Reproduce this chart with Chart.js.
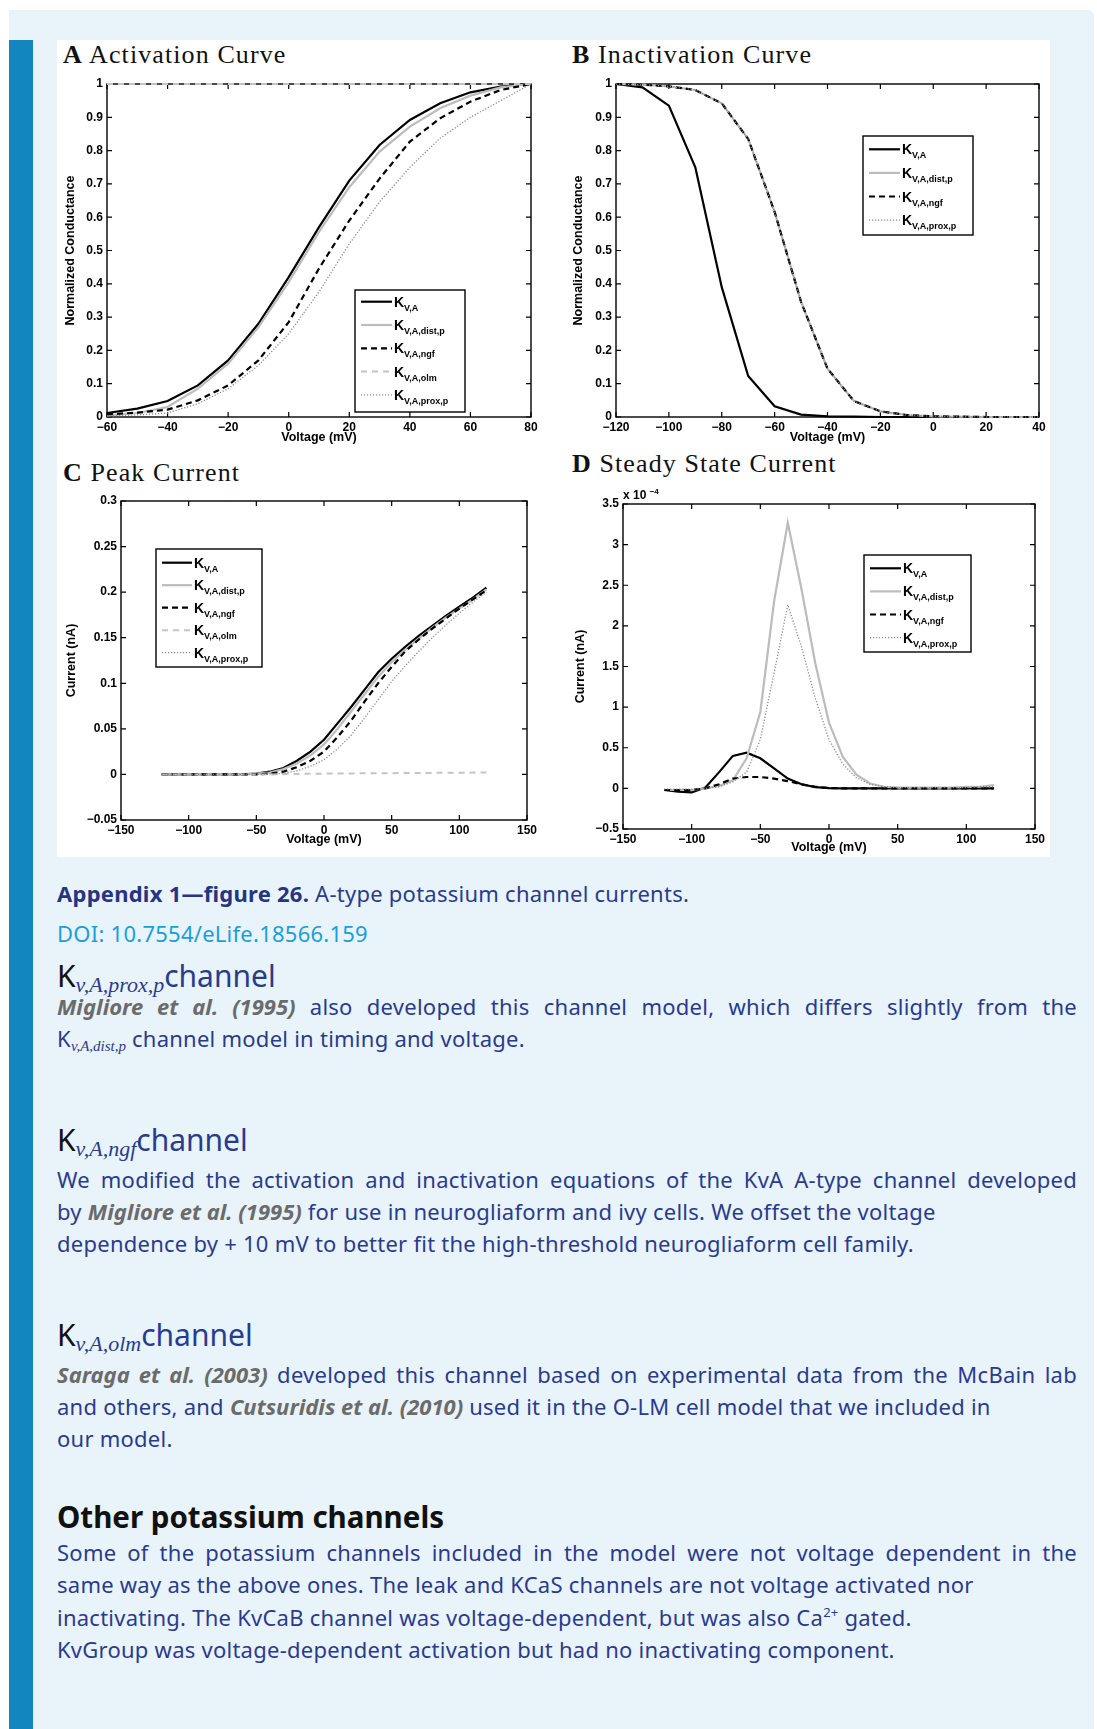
<!DOCTYPE html>
<html>
<head>
<meta charset="utf-8">
<script src="https://cdn.jsdelivr.net/npm/chart.js@4.4.0/dist/chart.umd.min.js"></script>
<style>
html, body { margin: 0; padding: 0; background: #fff; }
body { width: 1097px; height: 1729px; position: relative; overflow: hidden; font-family: "Noto Sans", Lato, sans-serif; }
#panel { position: absolute; left: 9px; top: 10px; width: 1085px; height: 1719px; background: #e8f3fa; border-top-right-radius: 6px; }
#bar { position: absolute; left: 9px; top: 40px; width: 24px; height: 1689px; background: #1287bf; }
#fig { position: absolute; left: 57px; top: 40px; width: 993px; height: 817px; background: #fff; }
.cw { position: absolute; }
.ptitle { position: absolute; font-family: "Liberation Serif", serif; font-size: 26px; line-height: 26px; letter-spacing: 1.1px; color: #111; white-space: nowrap; }
.tl { position: absolute; left: 57px; white-space: nowrap; color: #2b3b8c; font-size: 22px; line-height: 1.2; letter-spacing: 0.25px; }
.just { width: 1020px; white-space: normal; text-align: justify; text-align-last: justify; }
.cite { color: #6b6b6b; font-weight: 700; font-style: italic; letter-spacing: 0; }
.head { font-size: 30px; letter-spacing: 0; }
.head .k { color: #111; }
.ksub { font-family: "Liberation Serif", serif; font-style: italic; position: relative; top: 5px; }
.head .ksub { font-size: 22px; }
.tsub { font-family: "Liberation Serif", serif; font-style: italic; font-size: 15px; position: relative; top: 4px; letter-spacing: 0; }
sup.ca { font-size: 13px; vertical-align: baseline; position: relative; top: -9px; }
</style>
</head>
<body>
<div id="panel"></div>
<div id="bar"></div>
<div id="fig"></div>

<div class="ptitle" style="left:63px;top:42px"><b>A</b> Activation Curve</div>
<div class="ptitle" style="left:572px;top:42px"><b>B</b> Inactivation Curve</div>
<div class="ptitle" style="left:63px;top:460px"><b>C</b> Peak Current</div>
<div class="ptitle" style="left:572px;top:451px"><b>D</b> Steady State Current</div>

<div class="cw" style="left:63px;top:70px;width:484px;height:375px"><canvas id="chartA" width="484" height="375"></canvas></div>
<div class="cw" style="left:571px;top:70px;width:482px;height:375px"><canvas id="chartB" width="482" height="375"></canvas></div>
<div class="cw" style="left:64px;top:485px;width:479px;height:362px"><canvas id="chartC" width="479" height="362"></canvas></div>
<div class="cw" style="left:573px;top:485px;width:476px;height:370px"><canvas id="chartD" width="476" height="370"></canvas></div>

<div class="tl" data-b="902"><b style="color:#253580">Appendix 1—figure 26.</b> A-type potassium channel currents.</div>
<div class="tl" data-b="942" style="color:#1a9fd9">DOI: 10.7554/eLife.18566.159</div>

<div class="tl head" data-b="988"><span class="k">K</span><span class="ksub">v,A,prox,p</span>channel</div>
<div class="tl just" data-b="1015"><span class="cite">Migliore et al. (1995)</span> also developed this channel model, which differs slightly from the</div>
<div class="tl" data-b="1047">K<span class="tsub">v,A,dist,p</span> channel model in timing and voltage.</div>

<div class="tl head" data-b="1152"><span class="k">K</span><span class="ksub">v,A,ngf</span>channel</div>
<div class="tl just" data-b="1188">We modified the activation and inactivation equations of the KvA A-type channel developed</div>
<div class="tl" data-b="1220">by <span class="cite">Migliore et al. (1995)</span> for use in neurogliaform and ivy cells. We offset the voltage</div>
<div class="tl" data-b="1252">dependence by + 10 mV to better fit the high-threshold neurogliaform cell family.</div>

<div class="tl head" data-b="1347"><span class="k">K</span><span class="ksub">v,A,olm</span>channel</div>
<div class="tl just" data-b="1383"><span class="cite">Saraga et al. (2003)</span> developed this channel based on experimental data from the McBain lab</div>
<div class="tl" data-b="1415">and others, and <span class="cite">Cutsuridis et al. (2010)</span> used it in the O-LM cell model that we included in</div>
<div class="tl" data-b="1447">our model.</div>

<div class="tl" data-b="1528" style="font-size:29.5px;font-weight:700;color:#111;letter-spacing:0">Other potassium channels</div>
<div class="tl just" data-b="1561">Some of the potassium channels included in the model were not voltage dependent in the</div>
<div class="tl" data-b="1593">same way as the above ones. The leak and KCaS channels are not voltage activated nor</div>
<div class="tl" data-b="1626">inactivating. The KvCaB channel was voltage-dependent, but was also Ca<sup class="ca">2+</sup> gated.</div>
<div class="tl" data-b="1658">KvGroup was voltage-dependent activation but had no inactivating component.</div>

<script>
// ---- data ----
const voltsA = [-60, -50, -40, -30, -20, -10, 0, 10, 20, 30, 40, 50, 60, 70, 80];
const actKvA  = [0.012, 0.025, 0.048, 0.095, 0.17, 0.28, 0.42, 0.57, 0.71, 0.817, 0.892, 0.942, 0.975, 0.992, 1];
const actDist = [0.005, 0.012, 0.03, 0.085, 0.16, 0.27, 0.405, 0.556, 0.69, 0.797, 0.872, 0.927, 0.965, 0.99, 1];
const actNgf  = [0.008, 0.013, 0.022, 0.05, 0.095, 0.17, 0.285, 0.446, 0.59, 0.716, 0.827, 0.897, 0.947, 0.982, 1];
const actOlm  = [1, 1, 1, 1, 1, 1, 1, 1, 1, 1, 1, 1, 1, 1, 1];
const actProx = [0.003, 0.006, 0.012, 0.04, 0.085, 0.155, 0.25, 0.376, 0.52, 0.646, 0.75, 0.837, 0.9, 0.95, 1];

const voltsB = [-120, -110, -100, -90, -80, -70, -60, -50, -40, -30, -20, -10, 0, 10, 20, 30, 40];
const inactKvA  = [1, 0.99, 0.935, 0.75, 0.39, 0.123, 0.032, 0.007, 0.002, 0.001, 0, 0, 0, 0, 0, 0, 0];
const inactDist = [1, 0.998, 0.993, 0.982, 0.942, 0.835, 0.616, 0.346, 0.145, 0.048, 0.017, 0.006, 0.002, 0.001, 0, 0, 0];
const inactNgf  = [1, 0.998, 0.993, 0.982, 0.942, 0.835, 0.616, 0.346, 0.145, 0.048, 0.017, 0.006, 0.002, 0.001, 0, 0, 0];
const inactProx = [1, 0.998, 0.993, 0.982, 0.942, 0.835, 0.616, 0.346, 0.145, 0.048, 0.017, 0.006, 0.002, 0.001, 0, 0, 0];

const voltsCD = [-120, -110, -100, -90, -80, -70, -60, -50, -40, -30, -20, -10, 0, 10, 20, 30, 40, 50, 60, 70, 80, 90, 100, 110, 120];
const peakKvA  = [0, 0, 0, 0, 0, 0, 0, 0.001, 0.003, 0.007, 0.015, 0.025, 0.038, 0.056, 0.074, 0.093, 0.112, 0.127, 0.14, 0.152, 0.163, 0.174, 0.184, 0.194, 0.205];
const peakDist = [0, 0, 0, 0, 0, 0, 0, 0.001, 0.002, 0.006, 0.012, 0.021, 0.033, 0.05, 0.069, 0.088, 0.107, 0.123, 0.137, 0.149, 0.161, 0.172, 0.182, 0.192, 0.203];
const peakNgf  = [0, 0, 0, 0, 0, 0, 0, 0, 0.001, 0.003, 0.008, 0.015, 0.025, 0.041, 0.059, 0.08, 0.1, 0.118, 0.135, 0.148, 0.16, 0.171, 0.182, 0.192, 0.202];
const peakOlm  = [0, 0, 0, 0, 0, 0, 0, 0, 0, 0.0003, 0.0005, 0.0007, 0.0009, 0.001, 0.0011, 0.0012, 0.0013, 0.0014, 0.0015, 0.0016, 0.0017, 0.0018, 0.0019, 0.002, 0.002];
const peakProx = [0, 0, 0, 0, 0, 0, 0, 0, 0.0005, 0.001, 0.004, 0.009, 0.016, 0.028, 0.043, 0.062, 0.082, 0.102, 0.119, 0.135, 0.15, 0.164, 0.177, 0.189, 0.2];

// steady state current, units of 1e-4 nA
const ssKvA  = [-0.02, -0.04, -0.05, 0.01, 0.2, 0.4, 0.44, 0.37, 0.245, 0.12, 0.05, 0.015, 0.003, 0, 0, 0, 0, 0, 0, 0, 0, 0, 0, 0, 0];
const ssDist = [-0.02, -0.02, -0.02, 0, 0.03, 0.1, 0.37, 0.94, 2.3, 3.27, 2.45, 1.54, 0.81, 0.39, 0.17, 0.06, 0.02, 0.01, 0.01, 0.01, 0.01, 0.01, 0.02, 0.02, 0.04];
const ssNgf  = [-0.02, -0.02, -0.02, 0, 0.05, 0.12, 0.14, 0.14, 0.12, 0.09, 0.05, 0.02, 0.005, 0, 0, 0, 0, 0, 0, 0, 0, 0, 0, 0, 0];
const ssProx = [-0.01, -0.01, -0.01, 0, 0.02, 0.08, 0.2, 0.6, 1.42, 2.26, 1.74, 1.11, 0.6, 0.3, 0.13, 0.05, 0.02, 0.01, 0.01, 0.01, 0.01, 0.01, 0.01, 0.02, 0.02];

// legend subscripts, K_{...}
const subKvA = 'V,A', subDist = 'V,A,dist,p', subNgf = 'V,A,ngf', subOlm = 'V,A,olm', subProx = 'V,A,prox,p';

// ---- styles ----
const lineStyles = {
    kva:  { borderColor: '#000000', borderWidth: 2.2, borderDash: [] },
    dist: { borderColor: '#bcbcbc', borderWidth: 2.2, borderDash: [] },
    ngf:  { borderColor: '#000000', borderWidth: 2.2, borderDash: [6, 4] },
    olm:  { borderColor: '#c4c4c4', borderWidth: 2, borderDash: [6, 5] },
    prox: { borderColor: '#8a8a8a', borderWidth: 1.3, borderDash: [1.2, 1.8] }
};
const axisFamily = '"Liberation Sans", Arial, sans-serif';

const fmt = function(v) {
    return String(Math.round(v * 100) / 100).replace('-', '\u2212');
};

const series = function(xs, ys, sub, style, order) {
    return Object.assign({
        data: xs.map((x, i) => ({ x: x, y: ys[i] })),
        sub: sub,
        fill: false,
        tension: 0,
        pointRadius: 0,
        clip: false,
        order: order
    }, style);
};

// MATLAB style box with inward ticks
const matlabBox = {
    id: 'matlabBox',
    beforeDatasetsDraw(chart) {
        const { ctx, chartArea: a, scales } = chart;
        ctx.save();
        ctx.strokeStyle = '#000';
        ctx.lineWidth = 1.4;
        ctx.strokeRect(a.left, a.top, a.right - a.left, a.bottom - a.top);
        ctx.lineWidth = 1.2;
        ctx.beginPath();
        scales.x.ticks.forEach(t => {
            const px = scales.x.getPixelForValue(t.value);
            ctx.moveTo(px, a.bottom); ctx.lineTo(px, a.bottom - 5);
            ctx.moveTo(px, a.top); ctx.lineTo(px, a.top + 5);
        });
        scales.y.ticks.forEach(t => {
            const py = scales.y.getPixelForValue(t.value);
            ctx.moveTo(a.left, py); ctx.lineTo(a.left + 5, py);
            ctx.moveTo(a.right, py); ctx.lineTo(a.right - 5, py);
        });
        ctx.stroke();
        ctx.restore();
    }
};

// boxed legend with K subscripts
const kLegend = {
    id: 'kLegend',
    afterDraw(chart, args, o) {
        if (!o || o.w === undefined) return;
        const { ctx, chartArea: a } = chart;
        const x = a.left + o.x, y = a.top + o.y;
        ctx.save();
        ctx.fillStyle = '#fff';
        ctx.fillRect(x, y, o.w, o.h);
        ctx.strokeStyle = '#000';
        ctx.lineWidth = 1.4;
        ctx.setLineDash([]);
        ctx.strokeRect(x, y, o.w, o.h);
        chart.data.datasets.forEach((ds, i) => {
            const ry = y + o.first + i * o.step;
            ctx.beginPath();
            ctx.setLineDash(ds.borderDash || []);
            ctx.strokeStyle = ds.borderColor;
            ctx.lineWidth = ds.borderWidth;
            ctx.moveTo(x + 6, ry);
            ctx.lineTo(x + o.lineEnd, ry);
            ctx.stroke();
            ctx.setLineDash([]);
            ctx.fillStyle = '#000';
            ctx.textBaseline = 'alphabetic';
            ctx.font = 'bold 14px ' + axisFamily;
            ctx.fillText('K', x + o.lineEnd + 2, ry + 5);
            const kw = ctx.measureText('K').width;
            ctx.font = 'bold 9px ' + axisFamily;
            ctx.fillText(ds.sub, x + o.lineEnd + 2 + kw, ry + 9);
        });
        ctx.restore();
    }
};

// "x 10^-4" exponent label
const expLabel = {
    id: 'expLabel',
    afterDraw(chart, args, o) {
        if (!o || !o.text) return;
        const { ctx, chartArea: a } = chart;
        ctx.save();
        ctx.fillStyle = '#000';
        ctx.font = 'bold 12px ' + axisFamily;
        ctx.fillText(o.text, a.left, a.top - 5);
        const w = ctx.measureText(o.text + ' ').width;
        ctx.font = 'bold 8px ' + axisFamily;
        ctx.fillText(o.exp, a.left + w, a.top - 10);
        ctx.restore();
    }
};

const buildChart = function(id, geo, datasets, xr, yr, yTitle, legend, exp) {
    const tickFont = { family: axisFamily, size: 12, weight: 'bold' };
    const titleFont = { family: axisFamily, size: 12.5, weight: 'bold' };
    return new Chart(document.getElementById(id), {
        type: 'line',
        data: { datasets: datasets },
        plugins: [matlabBox, kLegend, expLabel],
        options: {
            responsive: false,
            animation: false,
            events: [],
            layout: { padding: { left: 0, top: geo.padTop, right: geo.padRight, bottom: 0 } },
            plugins: {
                legend: { display: false },
                tooltip: { enabled: false },
                kLegend: legend,
                expLabel: exp || {}
            },
            scales: {
                x: {
                    type: 'linear',
                    min: xr[0], max: xr[1],
                    ticks: { stepSize: xr[2], callback: fmt, font: tickFont, color: '#000', padding: 3, maxRotation: 0, autoSkip: false },
                    grid: { display: false, drawTicks: false },
                    border: { display: false },
                    title: { display: true, text: 'Voltage (mV)', font: titleFont, color: '#000', padding: { top: 0, bottom: 0 } },
                    afterFit(s) { s.height = geo.xH; s.paddingLeft = 0; s.paddingRight = 0; }
                },
                y: {
                    type: 'linear',
                    min: yr[0], max: yr[1],
                    ticks: { stepSize: yr[2], callback: fmt, font: tickFont, color: '#000', padding: 4, autoSkip: false },
                    grid: { display: false, drawTicks: false },
                    border: { display: false },
                    title: { display: true, text: yTitle, font: titleFont, color: '#000', padding: { top: 0, bottom: 0 } },
                    afterFit(s) { s.width = geo.yW; s.paddingTop = 0; s.paddingBottom = 0; }
                }
            }
        }
    });
};

const S = lineStyles;

buildChart('chartA', { padTop: 14, padRight: 16, xH: 28, yW: 44 }, [
    series(voltsA, actKvA, subKvA, S.kva, 5),
    series(voltsA, actDist, subDist, S.dist, 4),
    series(voltsA, actNgf, subNgf, S.ngf, 3),
    series(voltsA, actOlm, subOlm, S.olm, 2),
    series(voltsA, actProx, subProx, S.prox, 1)
], [-60, 80, 20], [0, 1, 0.1], 'Normalized Conductance',
    { x: 248, y: 206, w: 110, h: 122, first: 11.7, step: 23.3, lineEnd: 37 });

buildChart('chartB', { padTop: 14, padRight: 14, xH: 28, yW: 45 }, [
    series(voltsB, inactKvA, subKvA, S.kva, 4),
    series(voltsB, inactDist, subDist, S.dist, 3),
    series(voltsB, inactNgf, subNgf, S.ngf, 2),
    series(voltsB, inactProx, subProx, S.prox, 1)
], [-120, 40, 20], [0, 1, 0.1], 'Normalized Conductance',
    { x: 247, y: 52, w: 110, h: 99, first: 13.3, step: 23.6, lineEnd: 37 });

buildChart('chartC', { padTop: 16, padRight: 16, xH: 27, yW: 57 }, [
    series(voltsCD, peakKvA, subKvA, S.kva, 5),
    series(voltsCD, peakDist, subDist, S.dist, 4),
    series(voltsCD, peakNgf, subNgf, S.ngf, 3),
    series(voltsCD, peakOlm, subOlm, S.olm, 2),
    series(voltsCD, peakProx, subProx, S.prox, 1)
], [-150, 150, 50], [-0.05, 0.3, 0.05], 'Current (nA)',
    { x: 35, y: 48, w: 106, h: 118, first: 13.7, step: 22.5, lineEnd: 36 });

buildChart('chartD', { padTop: 19, padRight: 14, xH: 26, yW: 50 }, [
    series(voltsCD, ssKvA, subKvA, S.kva, 4),
    series(voltsCD, ssDist, subDist, S.dist, 3),
    series(voltsCD, ssNgf, subNgf, S.ngf, 2),
    series(voltsCD, ssProx, subProx, S.prox, 1)
], [-150, 150, 50], [-0.5, 3.5, 0.5], 'Current (nA)',
    { x: 241, y: 51, w: 107, h: 97, first: 13.3, step: 23.1, lineEnd: 37 },
    { text: 'x 10', exp: '\u22124' });

// place text lines by baseline (Noto Sans: ascent 1.069, line-height 1.2)
document.querySelectorAll('.tl').forEach(el => {
    const size = parseFloat(getComputedStyle(el).fontSize);
    el.style.top = (parseFloat(el.dataset.b) - 0.988 * size) + 'px';
});
</script>
</body>
</html>
